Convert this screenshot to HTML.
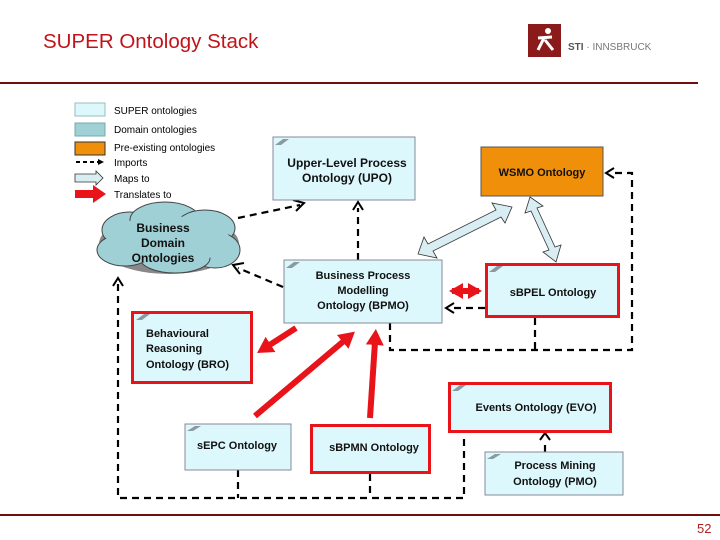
<!DOCTYPE html>
<html><head><meta charset="utf-8"><style>
html,body{margin:0;padding:0;background:#fff;}
svg{display:block;font-family:"Liberation Sans",Arial,sans-serif;}
</style></head><body>
<svg width="720" height="540" viewBox="0 0 720 540">
<defs>
<marker id="rh" markerWidth="18" markerHeight="18" refX="3" refY="9" orient="auto" markerUnits="userSpaceOnUse"><path d="M0,0 L16,9 L0,18 z" fill="#e8141a"/></marker>
<marker id="rs" markerWidth="16" markerHeight="16" refX="11" refY="8" orient="auto-start-reverse" markerUnits="userSpaceOnUse"><path d="M0,0 L14,8 L0,16 z" fill="#e8141a"/></marker>
</defs>
<text x="43" y="48" font-size="20.5" fill="#c0141a">SUPER Ontology Stack</text>
<rect x="528" y="24" width="33" height="33" fill="#8b1a1a"/>
<circle cx="548" cy="31" r="3" fill="#fff"/>
<path d="M538,38 L552,37 M544,38 L538,50 M545,40 L553,50" stroke="#fff" stroke-width="3" fill="none"/>
<text x="568" y="50" font-size="10" fill="#777"><tspan font-weight="bold" fill="#555">STI</tspan> · INNSBRUCK</text>
<rect x="0" y="82" width="698" height="2" fill="#6e0f0f"/>
<rect x="0" y="514" width="720" height="2" fill="#6e0f0f"/>
<text x="697" y="533" font-size="13" fill="#b02020">52</text>

<g font-size="10" fill="#000">
<rect x="75" y="103" width="30" height="13" fill="#ddf8fc" stroke="#9bb"/>
<rect x="75" y="123" width="30" height="13" fill="#9fd0d6" stroke="#7aa"/>
<rect x="75" y="142" width="30" height="13" fill="#f0900a" stroke="#333"/>
<line x1="76" y1="162" x2="98" y2="162" stroke="#000" stroke-width="2" stroke-dasharray="4,3"/>
<path d="M98,159 L104,162 L98,165z"/>
<path d="M75,174 L96,174 L96,171 L103,178 L96,185 L96,182 L75,182z" fill="#d8eef2" stroke="#333" stroke-width="0.8"/>
<path d="M75,190 L93,190 L93,185 L106,194 L93,203 L93,198 L75,198z" fill="#e8141a"/>
<text x="114" y="114">SUPER ontologies</text>
<text x="114" y="133">Domain ontologies</text>
<text x="114" y="151">Pre-existing ontologies</text>
<text x="114" y="166">Imports</text>
<text x="114" y="182">Maps to</text>
<text x="114" y="198">Translates to</text>
</g>

<g transform="translate(4,4)" fill="#888">
<ellipse cx="165" cy="240" rx="70" ry="30"/>
</g>
<g fill="#9fd0d6" stroke="#444" stroke-width="1">
<ellipse cx="130" cy="230" rx="28" ry="18"/>
<ellipse cx="165" cy="220" rx="35" ry="18"/>
<ellipse cx="205" cy="228" rx="30" ry="18"/>
<ellipse cx="215" cy="250" rx="25" ry="18"/>
<ellipse cx="175" cy="258" rx="35" ry="15"/>
<ellipse cx="125" cy="250" rx="28" ry="16"/>
</g>
<ellipse cx="168" cy="240" rx="62" ry="24" fill="#9fd0d6"/>
<g font-size="12" font-weight="bold" text-anchor="middle" fill="#111">
<text x="163" y="232">Business</text><text x="163" y="247">Domain</text><text x="163" y="262">Ontologies</text>
</g>

<g stroke="#000" stroke-width="2.2" stroke-dasharray="7,5" fill="none">
<polyline points="118,284 118,498 464,498 464,434"/>
<line x1="238" y1="470" x2="238" y2="498"/>
<line x1="370" y1="474" x2="370" y2="498"/>
<polyline points="390,323 390,350 632,350 632,173 612,173"/>
<line x1="535" y1="318" x2="535" y2="350"/>
<line x1="358" y1="260" x2="358" y2="208"/>
<line x1="238" y1="218" x2="300" y2="205"/>
<line x1="283" y1="287" x2="238" y2="268"/>
<line x1="485" y1="308" x2="452" y2="308"/>
<line x1="545" y1="452" x2="545" y2="440"/>
</g>
<g stroke="#000" stroke-width="2" fill="none">
<path d="M113,286 L118,278 L123,286"/>
<path d="M353,210 L358,202 L363,210"/>
<path d="M293,200 L304,203 L296,211"/>
<path d="M244,263 L233,265 L240,274"/>
<path d="M454,303 L446,308 L454,313"/>
<path d="M614,168 L606,173 L614,178"/>
<path d="M540,440 L545,433 L550,440"/>
</g>

<g fill="#d8eef2" stroke="#333" stroke-width="0.8">
<path d="M418,254 L424,237 L428,244 L496,210 L492,203 L512,207 L505,223 L501,217 L433,251 L437,258z"/>
<path d="M530,197 L543,206 L537,208 L555,247 L561,245 L556,262 L543,252 L549,250 L531,211 L525,213z"/>
</g>

<g font-size="12" font-weight="bold" text-anchor="middle" fill="#111">
<rect x="273" y="137" width="142" height="63" fill="#ddf8fc" stroke="#889"/>
<text x="347" y="167">Upper-Level Process</text><text x="347" y="182">Ontology (UPO)</text>
<rect x="481" y="147" width="122" height="49" fill="#f0900a" stroke="#555"/>
<text x="542" y="176" font-size="11">WSMO Ontology</text>
<rect x="284" y="260" width="158" height="63" fill="#ddf8fc" stroke="#889"/>
<text x="363" y="279" font-size="11">Business Process</text><text x="363" y="294" font-size="11">Modelling</text><text x="363" y="309" font-size="11">Ontology (BPMO)</text>
<rect x="486.5" y="264.5" width="132" height="52" fill="#ddf8fc" stroke="#e8141a" stroke-width="3"/>
<text x="553" y="296" font-size="11">sBPEL Ontology</text>
<rect x="132.5" y="312.5" width="119" height="70" fill="#ddf8fc" stroke="#e8141a" stroke-width="3"/>
<g text-anchor="start" font-size="11"><text x="146" y="337">Behavioural</text><text x="146" y="352">Reasoning</text><text x="146" y="368">Ontology (BRO)</text></g>
<rect x="449.5" y="383.5" width="161" height="48" fill="#ddf8fc" stroke="#e8141a" stroke-width="3"/>
<text x="536" y="411" font-size="11">Events Ontology (EVO)</text>
<rect x="185" y="424" width="106" height="46" fill="#ddf8fc" stroke="#889"/>
<text x="237" y="449" font-size="11">sEPC Ontology</text>
<rect x="311.5" y="425.5" width="118" height="47" fill="#ddf8fc" stroke="#e8141a" stroke-width="3"/>
<text x="374" y="451" font-size="11">sBPMN Ontology</text>
<rect x="485" y="452" width="138" height="43" fill="#ddf8fc" stroke="#889"/>
<text x="555" y="469" font-size="11">Process Mining</text><text x="555" y="485" font-size="11">Ontology (PMO)</text>
</g>
<g fill="#8a9aa0">
<path d="M275,145 L283,139 L289,139 L281,145z"/>
<path d="M286,268 L294,262 L300,262 L292,268z"/>
<path d="M489,272 L497,266 L503,266 L495,272z"/>
<path d="M136,320 L144,314 L150,314 L142,320z"/>
<path d="M452,391 L460,385 L466,385 L458,391z"/>
<path d="M187,431 L195,426 L201,426 L193,431z"/>
<path d="M487,459 L495,454 L501,454 L493,459z"/>
</g>

<g stroke="#e8141a" stroke-width="6" fill="none">
<line x1="452" y1="291" x2="479" y2="291" marker-start="url(#rs)" marker-end="url(#rs)"/>
<line x1="296" y1="328" x2="268" y2="346" marker-end="url(#rh)"/>
<line x1="255" y1="416" x2="345" y2="340" marker-end="url(#rh)"/>
<line x1="370" y1="418" x2="375" y2="342" marker-end="url(#rh)"/>
</g>
</svg>
</body></html>
